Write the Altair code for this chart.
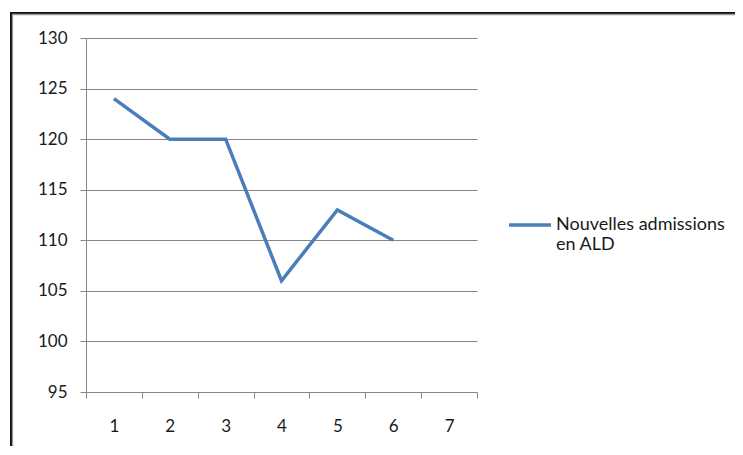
import altair as alt
import pandas as pd

categories = [1, 2, 3, 4, 5, 6, 7]
values = [124, 120, 120, 106, 113, 110]
series_name = "Nouvelles admissions en ALD"
legend_lines = ["Nouvelles admissions", "en ALD"]
y_ticks = [95, 100, 105, 110, 115, 120, 125, 130]

df = pd.DataFrame({"x": categories[:len(values)], "y": values, "s": [series_name] * len(values)})

W, H = 391, 354
FONT = "Lato"
TXT = "#1a1a1a"
GRID = "#868686"
BLUE = "#4a7ebb"

line = alt.Chart(df).mark_line(strokeWidth=3.5).encode(
    x=alt.X("x:O",
            scale=alt.Scale(domain=categories, type="band", paddingInner=0, paddingOuter=0),
            axis=alt.Axis(title=None, labelAngle=0, tickBand="extent", tickSize=6,
                          labelPadding=20, grid=False)),
    y=alt.Y("y:Q",
            scale=alt.Scale(domain=[95, 130], nice=False, zero=False),
            axis=alt.Axis(title=None, values=y_ticks, tickSize=6, labelPadding=13, grid=True)),
    color=alt.Color("s:N", scale=alt.Scale(range=[BLUE]),
                    legend=alt.Legend(title=None, orient="none", legendX=421, legendY=164,
                                      symbolType="stroke", symbolSize=1764, symbolStrokeWidth=3.5,
                                      labelOffset=3, labelLimit=400, labelFontSize=18,
                                      labelExpr="['" + legend_lines[0] + "', '" + legend_lines[1] + "']")),
)

frame_df = pd.DataFrame({"a": [0]})
top_border = alt.Chart(frame_df).mark_rule(color="#111111", strokeWidth=2).encode(
    x=alt.value(-76), x2=alt.value(700), y=alt.value(-25))
top_border2 = alt.Chart(frame_df).mark_rule(color="#9a9a9a", strokeWidth=1.3).encode(
    x=alt.value(-74), x2=alt.value(700), y=alt.value(-23.5))
left_border = alt.Chart(frame_df).mark_rule(color="#111111", strokeWidth=2).encode(
    x=alt.value(-75), y=alt.value(-26), y2=alt.value(460))
left_border2 = alt.Chart(frame_df).mark_rule(color="#9a9a9a", strokeWidth=1.3).encode(
    x=alt.value(-73.5), y=alt.value(-24), y2=alt.value(460))

chart = alt.layer(top_border, top_border2, left_border, left_border2, line).properties(
    width=W, height=H,
    autosize=alt.AutoSizeParams(type="none"),
    padding={"left": 78, "top": 30, "right": 258, "bottom": 54},
).configure_view(stroke=None).configure_axis(
    domainColor=GRID, tickColor=GRID, gridColor=GRID, gridWidth=1, domainWidth=1, tickWidth=1,
    labelFont=FONT, labelFontSize=17, labelColor=TXT,
).configure_legend(
    labelFont=FONT, labelFontSize=18, labelColor=TXT,
)

chart.save("out.html", embed_options={"renderer": "svg", "actions": False})
